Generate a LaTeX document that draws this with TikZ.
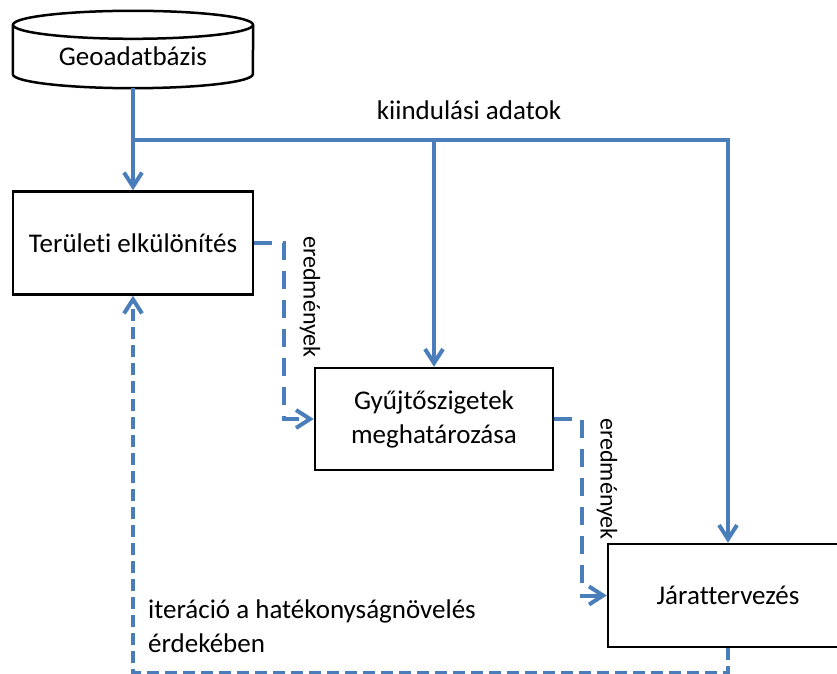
\documentclass[tikz,border=0pt]{standalone}
\usepackage{fontspec}
\setmainfont{Carlito}[Ligatures=NoCommon]
\usetikzlibrary{arrows.meta}
\definecolor{flowColor}{RGB}{74,126,187}
\colorlet{penColor}{black}
\tikzset{>={Straight Barb[length=14pt,width=18pt]}}
\tikzset{
  box/.style={draw=penColor, line width=2.5pt, minimum width=240pt, minimum height=103pt, align=center, inner sep=0pt},
  flow/.style={flowColor, line width=4pt},
  result/.style={flow, dash pattern=on 18pt off 11pt},
  loopback/.style={flow, dash pattern=on 12pt off 6pt},
  label/.style={font=\fontsize{24}{29}\selectfont, inner sep=0pt}
}

\begin{document}
\begin{tikzpicture}[x=1pt,y=1pt,font=\fontsize{27}{34}\selectfont]
  \useasboundingbox (0,0) rectangle (837,673);
  % database
  \node[minimum width=240pt, minimum height=63pt, inner sep=0pt] (geo) at (133,616.5) {Geoadatbázis};
  \draw[penColor, line width=2.5pt] (geo.north) ellipse (120pt and 14pt);
  \draw[penColor, line width=2.5pt] (geo.north west) -- ([yshift=14pt]geo.south west) arc (180:360:120pt and 14pt) -- (geo.north east);

  \node[box] (terulet) at (133,430) {Területi elkülönítés};
  \node[box, minimum width=238pt, minimum height=102pt] (gyujto) at (434,254) {Gyűjtőszigetek\\meghatározása};
  \node[box] (jarat) at (728,77.5) {Járattervezés};

  % input data
  \coordinate (split) at (133,533);
  \draw[flow,->] (geo.south) -- (terulet.north);
  \draw[flow,->] (split) -| (jarat.north);
  \draw[flow,->] (gyujto.north |- split) -- (gyujto.north);
  \node (kiindulas) at (469,563) {kiindulási adatok};

  % results
  \draw[result,->] (terulet.east) -- ++(30,0) |- (gyujto.west);
  \draw[result,->] (gyujto.east) -- ++(28,0) |- (jarat.west);
  \node[label, rotate=-90] (eredmeny1) at (310,376) {eredmények};
  \node[label, rotate=-90] (eredmeny2) at (607,194) {eredmények};

  % iteration loop
  \draw[loopback,->] (jarat.south) -- ++(0,-25) -| (terulet.south);
  \node[anchor=west, align=left, inner sep=0pt] (iteracio) at (148,46.5) {iteráció a hatékonyságnövelés\\érdekében};
\end{tikzpicture}
\end{document}
